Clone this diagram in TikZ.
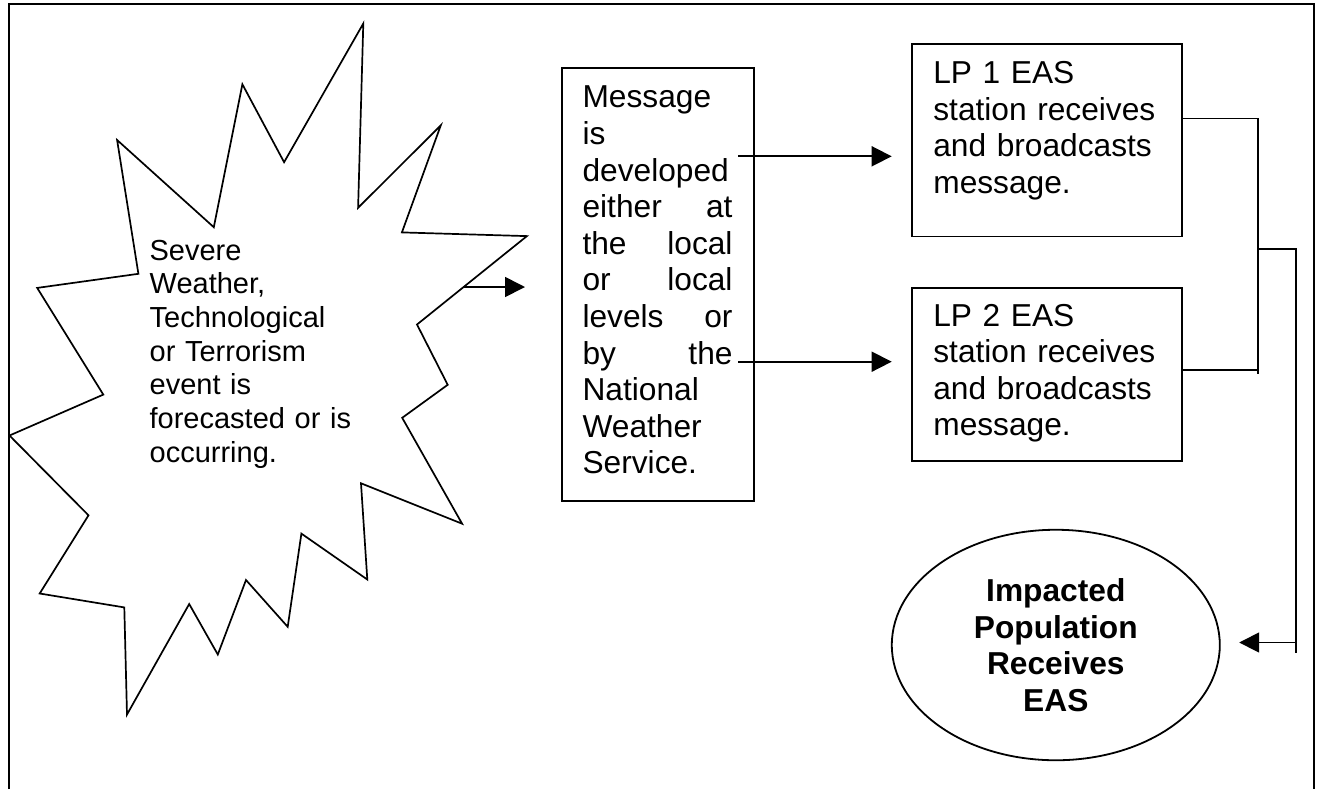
\documentclass[tikz,border=0pt]{standalone}
\usepackage{fontspec}
\setmainfont{Liberation Sans}
\usetikzlibrary{calc,arrows.meta,shapes.geometric}
\tikzset{font=\fontsize{15.85pt}{18.3pt}\selectfont}

\begin{document}
\begin{tikzpicture}[x=0.5pt,y=-0.5pt,line width=0.85pt,>={Triangle[length=10pt,width=10pt]},
    every node/.style={inner sep=0pt},
    box/.style={draw,line width=0.9pt,anchor=north west},
    txt/.style={anchor=north west,align=left}]
      \useasboundingbox (0,0) rectangle (1317,789);
      \draw[line width=1pt] (9,789) -- (9,4) -- (1314,4) -- (1314,789);

      \draw (363.3,23.5) -- (358.1,207.8) -- (440.8,125.3) -- (401.9,232.4) -- (526.9,236.1)
        -- (417,324.5) -- (447.7,384.8) -- (402.2,417.8) -- (462.1,523.7) -- (361,483.3)
        -- (367.3,579.5) -- (301.4,533.6) -- (287.7,626.8) -- (246,580) -- (217.8,654.5)
        -- (189.2,604) -- (127,714.5) -- (124.3,607.4) -- (39.7,593.5) -- (88.5,515.3)
        -- (9.5,435.5) -- (103.3,394.6) -- (37.2,287.9) -- (138.4,273.8) -- (117.1,140)
        -- (213.8,227.2) -- (242.4,84.3) -- (284.1,162.2) -- cycle;
      \node[txt,text width=110pt,font=\fontsize{14.5pt}{16.85pt}\selectfont] (Event) at (148.8,239)
        {Severe\\Weather,\\Technological\\or Terrorism\\event is\\forecasted or is\\occurring.};

      \node[box,minimum width=96pt,minimum height=216.2pt] (Msg) at (560.7,67.3) {};
      \node[txt,text width=75pt] (MsgT) at ($(Msg.north west)+(21,18)$)
        {Message\\is\\developed\\either\hfill at\\the\hfill local\\or\hfill local\\levels\hfill or\\by\hfill the\\National\\Weather\\Service.};

      \node[box,minimum width=135.15pt,minimum height=96.35pt] (LP1) at (910.7,42.8) {};
      \node[txt,text width=115pt] (LP1T) at ($(LP1.north west)+(21.8,18)$)
        {LP 1 EAS\\station receives\\and broadcasts\\message.};
      \node[box,minimum width=135.15pt,minimum height=86.2pt] (LP2) at (910.7,287.3) {};
      \node[txt,text width=115pt] (LP2T) at ($(LP2.north west)+(21.8,15.8)$)
        {LP 2 EAS\\station receives\\and broadcasts\\message.};

      \node[draw,ellipse,line width=0.9pt,minimum width=164pt,minimum height=115.25pt,align=center,
        font=\fontsize{15.85pt}{18.3pt}\selectfont\bfseries] (Pop) at (1055.8,645)
        {Impacted\\Population\\Receives\\EAS};

      \coordinate (E0) at (463.6,287);
      \coordinate (M0) at (525,287);
      \coordinate (M1) at (738,156.3);
      \coordinate (L1) at (891.7,156.3);
      \coordinate (M2) at (738,361.7);
      \coordinate (L2) at (891.7,361.7);
      \coordinate (B1) at (1258,118.6);
      \coordinate (B2) at (1258,374.2);
      \coordinate (B0) at (1258,248.9);
      \coordinate (R0) at (1296,248.9);
      \coordinate (R1) at (1296,652.5);
      \coordinate (R2) at (1296,642.5);
      \coordinate (P0) at (1239.2,642.5);

      \path [->](E0) edge (M0);
      \path [->](M1) edge (L1);
      \path [->](M2) edge (L2);
      \draw (LP1.east |- B1) -- (B1) -- (B2);
      \draw (LP2.east |- 0,369.9) -- (1258,369.9);
      \draw (B0) -- (R0) -- (R1);
      \path [->](R2) edge (P0);
\end{tikzpicture}
\end{document}
